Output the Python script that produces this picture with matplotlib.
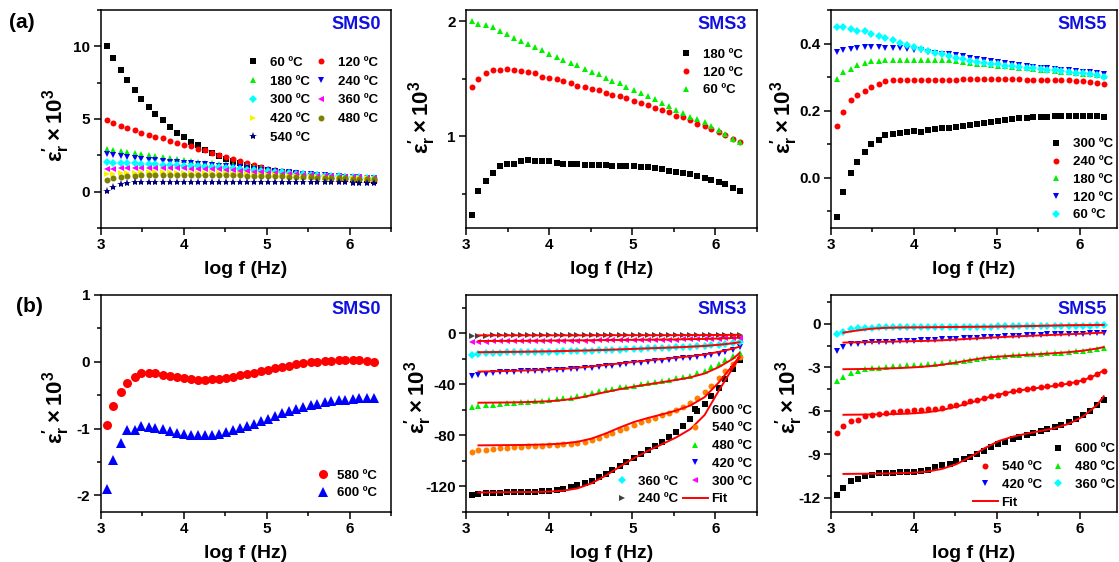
import matplotlib
matplotlib.use('Agg')
import matplotlib.pyplot as plt
from matplotlib.lines import Line2D
from matplotlib.ticker import MultipleLocator

plt.rcParams['font.family'] = ['Liberation Sans', 'DejaVu Sans']
plt.rcParams['font.weight'] = 'bold'
plt.rcParams['axes.unicode_minus'] = False
plt.rcParams['mathtext.fontset'] = 'custom'
plt.rcParams['mathtext.rm'] = 'Liberation Sans'
plt.rcParams['mathtext.bf'] = 'Liberation Sans:bold'
plt.rcParams['mathtext.it'] = 'Liberation Sans:italic'

# log of measuring frequency (Hz)
logf = [3.07, 3.15, 3.24, 3.32, 3.41, 3.49, 3.58, 3.66, 3.75, 3.83,
        3.92, 4.00, 4.09, 4.17, 4.26, 4.34, 4.43, 4.51, 4.60, 4.68,
        4.76, 4.85, 4.93, 5.02, 5.10, 5.19, 5.27, 5.36, 5.44, 5.53,
        5.61, 5.70, 5.78, 5.87, 5.95, 6.04, 6.12, 6.21, 6.29]
fit_logf = [3.15, 3.32, 3.49, 3.66, 3.83, 4.00, 4.17, 4.34, 4.51, 4.68,
            4.85, 5.02, 5.19, 5.36, 5.53, 5.70, 5.87, 6.04, 6.21, 6.29]

# (a) SMS0, positive permittivity
a0_60 = [10.0, 9.2, 8.4, 7.7, 7.0, 6.4, 5.85, 5.35, 4.9, 4.45, 4.07, 3.77, 3.43, 3.2, 2.9, 2.65, 2.45, 2.27, 2.1, 1.95,
         1.82, 1.7, 1.6, 1.5, 1.42, 1.34, 1.28, 1.22, 1.16, 1.1, 1.06, 1.02, 0.98, 0.94, 0.9, 0.86, 0.82, 0.78, 0.74]
a0_120 = [4.93, 4.7, 4.54, 4.35, 4.21, 4.05, 3.93, 3.77, 3.66, 3.52, 3.38, 3.24, 3.13, 2.96, 2.85, 2.69, 2.55, 2.38, 2.22, 2.08,
          1.94, 1.81, 1.69, 1.57, 1.46, 1.39, 1.3, 1.23, 1.16, 1.11, 1.06, 1.02, 0.97, 0.93, 0.9, 0.88, 0.86, 0.83, 0.81]
a0_180 = [2.96, 2.88, 2.8, 2.72, 2.64, 2.57, 2.5, 2.43, 2.36, 2.29, 2.22, 2.16, 2.1, 2.05, 2.0, 1.96, 1.92, 1.88, 1.84, 1.79,
          1.74, 1.68, 1.62, 1.56, 1.5, 1.44, 1.38, 1.33, 1.28, 1.23, 1.19, 1.15, 1.11, 1.08, 1.05, 1.02, 0.99, 0.96, 0.94]
a0_240 = [2.6, 2.52, 2.45, 2.38, 2.32, 2.26, 2.21, 2.16, 2.11, 2.07, 2.03, 1.99, 1.95, 1.91, 1.87, 1.83, 1.79, 1.75, 1.71, 1.67,
          1.62, 1.57, 1.52, 1.47, 1.42, 1.37, 1.32, 1.28, 1.24, 1.2, 1.16, 1.12, 1.09, 1.06, 1.03, 1.0, 0.98, 0.96, 0.94]
a0_300 = [2.02, 2.0, 1.98, 1.96, 1.94, 1.92, 1.9, 1.88, 1.86, 1.84, 1.82, 1.8, 1.78, 1.76, 1.73, 1.7, 1.67, 1.64, 1.6, 1.56,
          1.52, 1.48, 1.44, 1.4, 1.36, 1.32, 1.28, 1.24, 1.2, 1.17, 1.14, 1.11, 1.08, 1.05, 1.03, 1.01, 0.99, 0.97, 0.95]
a0_360 = [1.55, 1.58, 1.6, 1.62, 1.63, 1.63, 1.63, 1.63, 1.62, 1.62, 1.61, 1.6, 1.59, 1.58, 1.57, 1.55, 1.53, 1.5, 1.47, 1.44,
          1.41, 1.38, 1.35, 1.31, 1.28, 1.25, 1.22, 1.19, 1.16, 1.13, 1.1, 1.08, 1.06, 1.04, 1.02, 1.0, 0.98, 0.96, 0.94]
a0_420 = [1.2, 1.25, 1.28, 1.3, 1.31, 1.32, 1.32, 1.32, 1.32, 1.32, 1.31, 1.31, 1.3, 1.3, 1.29, 1.28, 1.27, 1.26, 1.24, 1.22,
          1.2, 1.18, 1.16, 1.14, 1.12, 1.1, 1.08, 1.06, 1.04, 1.02, 1.0, 0.99, 0.97, 0.96, 0.94, 0.93, 0.92, 0.91, 0.9]
a0_480 = [0.78, 0.93, 1.02, 1.08, 1.11, 1.13, 1.14, 1.15, 1.15, 1.15, 1.15, 1.15, 1.15, 1.14, 1.14, 1.14, 1.13, 1.13, 1.12, 1.12,
          1.11, 1.1, 1.09, 1.08, 1.07, 1.05, 1.04, 1.02, 1.0, 0.99, 0.97, 0.96, 0.94, 0.93, 0.92, 0.9, 0.89, 0.88, 0.87]
a0_540 = [0.07, 0.3, 0.5, 0.6, 0.65, 0.68, 0.69, 0.69, 0.68, 0.68, 0.67, 0.67, 0.66, 0.66, 0.66, 0.66, 0.66, 0.66, 0.66, 0.67,
          0.67, 0.67, 0.68, 0.68, 0.68, 0.68, 0.68, 0.68, 0.67, 0.67, 0.66, 0.66, 0.65, 0.65, 0.64, 0.63, 0.62, 0.61, 0.6]

# (a) SMS3
a3_180 = [0.31, 0.52, 0.61, 0.68, 0.74, 0.76, 0.76, 0.78, 0.79, 0.78, 0.78, 0.78, 0.77, 0.76, 0.76, 0.76, 0.75, 0.75, 0.75, 0.75,
          0.74, 0.74, 0.74, 0.74, 0.73, 0.73, 0.72, 0.71, 0.7, 0.69, 0.68, 0.67, 0.65, 0.64, 0.62, 0.6, 0.58, 0.55, 0.52]
a3_120 = [1.43, 1.5, 1.55, 1.58, 1.58, 1.59, 1.58, 1.57, 1.56, 1.55, 1.52, 1.51, 1.5, 1.48, 1.46, 1.44, 1.43, 1.41, 1.4, 1.38,
          1.36, 1.35, 1.33, 1.31, 1.29, 1.27, 1.25, 1.23, 1.21, 1.18, 1.17, 1.14, 1.11, 1.09, 1.06, 1.04, 1.01, 0.98, 0.95]
a3_60 = [2.0, 1.98, 1.965, 1.95, 1.92, 1.89, 1.86, 1.83, 1.8, 1.78, 1.75, 1.72, 1.69, 1.66, 1.64, 1.62, 1.59, 1.56, 1.54, 1.51,
         1.48, 1.46, 1.43, 1.4, 1.38, 1.35, 1.32, 1.29, 1.26, 1.23, 1.2, 1.17, 1.15, 1.12, 1.09, 1.05, 1.02, 0.98, 0.95]

# (a) SMS5
a5_300 = [-0.117, -0.042, 0.015, 0.048, 0.078, 0.101, 0.112, 0.126, 0.13, 0.133, 0.135, 0.138, 0.136, 0.141, 0.145, 0.147,
          0.149, 0.151, 0.154, 0.157, 0.159, 0.163, 0.166, 0.169, 0.172, 0.175, 0.177, 0.178, 0.18, 0.181, 0.182, 0.183,
          0.183, 0.183, 0.183, 0.183, 0.183, 0.183, 0.182]
a5_240 = [0.153, 0.195, 0.233, 0.248, 0.258, 0.271, 0.28, 0.287, 0.29, 0.291, 0.292, 0.292, 0.291, 0.292, 0.292, 0.292,
          0.292, 0.292, 0.293, 0.293, 0.293, 0.293, 0.293, 0.293, 0.293, 0.293, 0.293, 0.292, 0.292, 0.292, 0.292, 0.291,
          0.29, 0.29, 0.289, 0.288, 0.285, 0.282, 0.278]
a5_180 = [0.293, 0.315, 0.325, 0.336, 0.342, 0.347, 0.348, 0.35, 0.351, 0.351, 0.351, 0.351, 0.351, 0.351, 0.351, 0.351,
          0.35, 0.348, 0.346, 0.343, 0.34, 0.338, 0.336, 0.334, 0.332, 0.33, 0.328, 0.326, 0.324, 0.322, 0.32, 0.318,
          0.316, 0.314, 0.312, 0.31, 0.308, 0.306, 0.304]
a5_120 = [0.376, 0.38, 0.383, 0.386, 0.39, 0.39, 0.39, 0.388, 0.386, 0.386, 0.384, 0.382, 0.38, 0.376, 0.373, 0.37,
          0.368, 0.365, 0.362, 0.358, 0.354, 0.351, 0.348, 0.345, 0.342, 0.338, 0.336, 0.333, 0.331, 0.328, 0.326, 0.324,
          0.322, 0.32, 0.318, 0.316, 0.314, 0.312, 0.31]
a5_60 = [0.448, 0.448, 0.442, 0.438, 0.436, 0.428, 0.423, 0.418, 0.411, 0.403, 0.395, 0.39, 0.385, 0.378, 0.373, 0.368,
         0.362, 0.358, 0.353, 0.348, 0.345, 0.342, 0.34, 0.338, 0.334, 0.332, 0.33, 0.328, 0.326, 0.324, 0.322, 0.32,
         0.318, 0.316, 0.313, 0.311, 0.308, 0.305, 0.301]

# (b) SMS0, negative permittivity
b0_580 = [-0.94, -0.655, -0.455, -0.315, -0.235, -0.175, -0.175, -0.165, -0.205, -0.22, -0.23, -0.25, -0.265, -0.27,
          -0.275, -0.265, -0.255, -0.24, -0.23, -0.205, -0.185, -0.165, -0.14, -0.12, -0.095, -0.075, -0.06, -0.04,
          -0.025, -0.01, 0.0, 0.01, 0.015, 0.02, 0.025, 0.025, 0.02, 0.01, 0.0]
b0_600 = [-1.91, -1.475, -1.215, -1.025, -1.025, -0.965, -0.97, -0.99, -1.01, -1.04, -1.06, -1.075, -1.09, -1.09, -1.1,
          -1.09, -1.075, -1.05, -1.025, -0.99, -0.96, -0.925, -0.89, -0.85, -0.81, -0.77, -0.735, -0.705, -0.675, -0.65,
          -0.625, -0.61, -0.59, -0.58, -0.57, -0.56, -0.55, -0.545, -0.55]

# (b) SMS3 measured
b3_600 = [-127, -126, -125.5, -125.3, -125, -124.7, -124.5, -124.2, -124.2, -124, -123.7, -123.4, -122.9, -121.9, -120.6,
          -119, -117.4, -115.4, -112.8, -110.2, -107, -103.6, -100.5, -97.4, -94.5, -91.4, -88.3, -84.9, -81.3, -77.1,
          -72.7, -67.4, -60.9, -55.2, -49.2, -42.7, -35.9, -27.6, -20.6]
b3_540 = [-92.7, -91.7, -91.1, -90.6, -90.1, -89.6, -89.1, -88.8, -88.5, -88.3, -88, -87.8, -87.5, -87, -86.5, -85.9,
          -84.9, -83.3, -81.8, -79.7, -77.9, -76, -74, -71.9, -69.8, -68, -66.1, -64.1, -62.2, -60.2, -57.6, -54.4, -50.5,
          -46.1, -40.9, -35.4, -29.7, -24, -18.2]
b3_480 = [-57.8, -57, -56.5, -56, -55.5, -54.9, -54.4, -54.2, -53.9, -53.4, -52.9, -52.3, -51.8, -51, -50.3, -49.5,
          -48.2, -46.6, -45.3, -44.5, -43.5, -42.4, -41.7, -40.9, -39.8, -39.1, -38, -37.2, -36.5, -35.4, -34.4, -33.1,
          -31.3, -29.2, -26.6, -24, -20.8, -17.7, -15.1]
b3_420 = [-33.1, -32.3, -31.8, -31, -30.5, -30.2, -30, -29.7, -29.7, -29.4, -29.2, -28.9, -28.6, -28.4, -28.1, -27.9,
          -27.3, -26.8, -26.3, -25.8, -25.3, -24.7, -24.2, -23.4, -22.9, -22.4, -21.9, -21.4, -20.6, -20.1, -19.5, -19,
          -18.5, -17.7, -16.9, -15.9, -14.6, -13, -10.9]
b3_360 = [-16.7, -16.1, -15.6, -15.3, -15.1, -15.0, -14.9, -14.8, -14.7, -14.6, -14.5, -14.4, -14.3, -14.2, -14.1, -13.9,
          -13.7, -13.5, -13.3, -13.1, -12.9, -12.7, -12.5, -12.3, -12.1, -11.9, -11.7, -11.5, -11.3, -11.0, -10.7, -10.4,
          -10.1, -9.8, -9.4, -9.0, -8.4, -7.6, -6.7]
b3_300 = [-7.0, -6.7, -6.5, -6.4, -6.3, -6.3, -6.2, -6.2, -6.1, -6.1, -6.0, -6.0, -5.9, -5.9, -5.8, -5.8, -5.7, -5.7,
          -5.6, -5.6, -5.5, -5.5, -5.4, -5.4, -5.3, -5.3, -5.2, -5.1, -5.0, -4.9, -4.8, -4.7, -4.6, -4.5, -4.4, -4.2, -4.0,
          -3.7, -3.4]
b3_240 = [-1.9, -1.8, -1.8, -1.7, -1.7, -1.7, -1.7, -1.7, -1.6, -1.6, -1.6, -1.6, -1.6, -1.6, -1.6, -1.6, -1.6, -1.6,
          -1.6, -1.6, -1.6, -1.6, -1.5, -1.5, -1.5, -1.5, -1.5, -1.5, -1.5, -1.5, -1.5, -1.4, -1.4, -1.4, -1.4, -1.3, -1.3,
          -1.2, -1.2]
# (b) SMS3 fitted curves
b3_fit_600 = [-124.7, -124.6, -124.5, -124.4, -124.3, -124.0, -123.3, -121.5, -117.5, -111.5, -104.5, -97.8, -92.0,
              -86.8, -81.5, -75.0, -64.0, -45.0, -27.0, -19.0]
b3_fit_540 = [-87.8, -87.7, -87.6, -87.5, -87.3, -87.0, -86.3, -85.0, -82.5, -78.5, -73.8, -69.5, -66.3, -63.5, -60.5,
              -56.5, -50.0, -38.5, -25.0, -18.0]
b3_fit_480 = [-54.4, -54.3, -54.2, -54.0, -53.7, -53.2, -52.3, -50.8, -48.5, -46.0, -43.8, -41.8, -40.0, -38.3, -36.5,
              -34.5, -31.5, -26.5, -20.0, -15.5]
b3_fit_420 = [-30.0, -29.8, -29.5, -29.2, -28.8, -28.4, -27.8, -27.0, -26.0, -24.8, -23.6, -22.4, -21.3, -20.2, -19.1,
              -18.0, -16.6, -14.6, -12.0, -10.5]
b3_fit_360 = [-14.8, -14.7, -14.6, -14.5, -14.3, -14.1, -13.9, -13.6, -13.3, -13.0, -12.6, -12.2, -11.8, -11.4, -11.0,
              -10.5, -9.9, -9.0, -7.8, -7.0]
b3_fit_300 = [-6.0, -6.0, -5.9, -5.9, -5.8, -5.7, -5.6, -5.5, -5.4, -5.3, -5.2, -5.1, -5.0, -4.9, -4.8, -4.6, -4.4,
              -4.1, -3.7, -3.4]
b3_fit_240 = [-1.6, -1.6, -1.6, -1.6, -1.6, -1.6, -1.6, -1.6, -1.6, -1.5, -1.5, -1.5, -1.5, -1.5, -1.5, -1.4, -1.4,
              -1.3, -1.2, -1.2]

# (b) SMS5 measured
b5_600 = [-11.84, -11.33, -10.83, -10.71, -10.53, -10.41, -10.3, -10.3, -10.3, -10.25, -10.25, -10.21, -10.18, -10.07,
          -9.91, -9.77, -9.66, -9.49, -9.33, -9.2, -8.99, -8.76, -8.51, -8.3, -8.16, -7.95, -7.79, -7.66, -7.54, -7.43,
          -7.29, -7.15, -6.97, -6.8, -6.57, -6.32, -6.0, -5.59, -5.24]
b5_540 = [-7.54, -7.08, -6.74, -6.67, -6.39, -6.28, -6.21, -6.14, -6.09, -6.05, -6.0, -5.98, -5.95, -5.91, -5.86, -5.79,
          -5.7, -5.59, -5.47, -5.36, -5.24, -5.13, -5.01, -4.9, -4.78, -4.67, -4.6, -4.51, -4.41, -4.34, -4.28, -4.21,
          -4.14, -4.07, -3.98, -3.86, -3.7, -3.47, -3.24]
b5_480 = [-3.93, -3.66, -3.4, -3.22, -3.1, -3.06, -3.03, -2.97, -2.92, -2.9, -2.87, -2.85, -2.83, -2.78, -2.74, -2.69,
          -2.64, -2.6, -2.53, -2.48, -2.44, -2.37, -2.32, -2.28, -2.23, -2.18, -2.14, -2.11, -2.09, -2.07, -2.02, -2.0,
          -1.98, -1.93, -1.89, -1.84, -1.79, -1.72, -1.68]
b5_420 = [-1.84, -1.56, -1.4, -1.36, -1.29, -1.26, -1.24, -1.22, -1.22, -1.2, -1.17, -1.15, -1.13, -1.1, -1.08, -1.06,
          -1.03, -1.01, -0.99, -0.97, -0.94, -0.92, -0.9, -0.87, -0.85, -0.83, -0.8, -0.78, -0.76, -0.74, -0.71, -0.71,
          -0.69, -0.69, -0.67, -0.67, -0.64, -0.62, -0.62]
b5_360 = [-0.71, -0.53, -0.38, -0.31, -0.27, -0.25, -0.24, -0.23, -0.23, -0.22, -0.22, -0.22, -0.21, -0.21, -0.21, -0.21,
          -0.2, -0.2, -0.2, -0.19, -0.19, -0.18, -0.18, -0.17, -0.17, -0.16, -0.16, -0.15, -0.15, -0.14, -0.14, -0.13,
          -0.13, -0.12, -0.12, -0.11, -0.11, -0.1, -0.1]
# (b) SMS5 fitted curves
b5_fit_600 = [-10.37, -10.36, -10.35, -10.34, -10.32, -10.28, -10.2, -10.02, -9.7, -9.2, -8.6, -8.1, -7.8, -7.58, -7.4,
              -7.2, -6.9, -6.4, -5.6, -5.0]
b5_fit_540 = [-6.28, -6.27, -6.26, -6.24, -6.22, -6.18, -6.1, -5.95, -5.72, -5.45, -5.15, -4.88, -4.68, -4.52, -4.4,
              -4.28, -4.12, -3.9, -3.5, -3.2]
b5_fit_480 = [-3.13, -3.12, -3.1, -3.08, -3.05, -3.0, -2.93, -2.82, -2.67, -2.5, -2.35, -2.26, -2.2, -2.14, -2.08,
              -2.02, -1.95, -1.85, -1.7, -1.6]
b5_fit_420 = [-1.29, -1.27, -1.25, -1.23, -1.21, -1.19, -1.17, -1.13, -1.08, -1.02, -0.97, -0.92, -0.87, -0.83, -0.79,
              -0.75, -0.71, -0.67, -0.62, -0.6]
b5_fit_360 = [-0.6, -0.45, -0.33, -0.27, -0.25, -0.24, -0.23, -0.22, -0.21, -0.2, -0.19, -0.18, -0.17, -0.15, -0.13,
              -0.11, -0.09, -0.08, -0.07, -0.07]

BLACK, RED, GREEN, BLUE = '#000000', '#ff0000', '#00f000', '#0000ff'
CYAN, MAGENTA, YELLOW, OLIVE = '#00ffff', '#ff00ff', '#f5f500', '#808000'
NAVY, ORANGE, GRAY = '#000080', '#ff8000', '#404040'
TITLE_BLUE = '#1010e0'
YLABEL = r'$\mathrm{\varepsilon}_{\mathrm{r}}^{\prime}\times\mathbf{10^3}$'


def pts(ax, y, marker, color, label, ms=4.3):
    h, = ax.plot(logf, y, linestyle='none', marker=marker, ms=ms, color=color,
                 markeredgewidth=0, label=label)
    return h


def fit(ax, y):
    h, = ax.plot(fit_logf, y, color=RED, lw=1.4, zorder=3)
    return h


def style(ax, name, ylim, major, minor, ylab_xy, xmax=6.5):
    ax.set_xlim(3, xmax)
    ax.set_ylim(*ylim)
    ax.xaxis.set_major_locator(MultipleLocator(1))
    ax.xaxis.set_minor_locator(MultipleLocator(0.5))
    ax.yaxis.set_major_locator(MultipleLocator(major))
    ax.yaxis.set_minor_locator(MultipleLocator(minor))
    ax.tick_params(which='both', direction='out', width=1.1, labelsize=11, pad=2.5)
    ax.tick_params(which='major', length=5)
    ax.tick_params(which='minor', length=3)
    for s in ax.spines.values():
        s.set_linewidth(1.1)
    ax.set_xlabel('log f (Hz)', fontsize=14, fontweight='bold', labelpad=6)
    ax.set_ylabel(YLABEL, fontsize=16, va='center')
    ax.yaxis.set_label_coords(*ylab_xy)
    ax.text(0.965, 0.935, name, transform=ax.transAxes, ha='right', va='center',
            color=TITLE_BLUE, fontsize=13, fontweight='bold')


def legend(ax, handles, labels, anchor, loc='upper left', ncol=1, hl=1.0, pad=0.8,
           spacing=0.42, colsp=0.3):
    ax.legend(handles, labels, loc=loc, bbox_to_anchor=anchor, ncol=ncol, frameon=False,
              prop={'size': 9.5, 'weight': 'bold'}, handlelength=hl, handletextpad=pad,
              labelspacing=spacing, columnspacing=colsp, borderpad=0, borderaxespad=0)


W, H = 1119, 562
fig = plt.figure(figsize=(W / 100, H / 100), dpi=100)
fig.patch.set_facecolor('white')


def box(left, top, right, bottom):
    return fig.add_axes([left / W, 1 - bottom / H, (right - left) / W, (bottom - top) / H])


ax1 = box(100.7, 10, 391, 228)
ax2 = box(466, 10, 757, 228)
ax3 = box(830.7, 10, 1117, 228)
ax4 = box(100.7, 295, 391, 512)
ax5 = box(466, 295, 757, 512)
ax6 = box(831, 295, 1117, 512)

# (a) SMS0
h60 = pts(ax1, a0_60, 's', BLACK, '60 \u00baC')
h120 = pts(ax1, a0_120, 'o', RED, '120 \u00baC')
h180 = pts(ax1, a0_180, '^', GREEN, '180 \u00baC')
h240 = pts(ax1, a0_240, 'v', BLUE, '240 \u00baC')
h300 = pts(ax1, a0_300, 'D', CYAN, '300 \u00baC', ms=3.6)
h360 = pts(ax1, a0_360, '<', MAGENTA, '360 \u00baC')
h420 = pts(ax1, a0_420, '>', YELLOW, '420 \u00baC')
h480 = pts(ax1, a0_480, 'o', OLIVE, '480 \u00baC')
h540 = pts(ax1, a0_540, '*', NAVY, '540 \u00baC', ms=6)
style(ax1, 'SMS0', (-2.5, 12.5), 5, 2.5, (-0.153, 0.47))
hs = [h60, h180, h300, h420, h540, h120, h240, h360, h480]
legend(ax1, hs, [h.get_label() for h in hs], (0.501, 0.787), ncol=2, spacing=0.5)

# (a) SMS3
hs = [pts(ax2, a3_180, 's', BLACK, '180 \u00baC'),
      pts(ax2, a3_120, 'o', RED, '120 \u00baC'),
      pts(ax2, a3_60, '^', GREEN, '60 \u00baC')]
style(ax2, 'SMS3', (0.2, 2.1), 1, 0.5, (-0.15, 0.51))
legend(ax2, hs, [h.get_label() for h in hs], (0.734, 0.823))

# (a) SMS5
hs = [pts(ax3, a5_300, 's', BLACK, '300 \u00baC'),
      pts(ax3, a5_240, 'o', RED, '240 \u00baC'),
      pts(ax3, a5_180, '^', GREEN, '180 \u00baC'),
      pts(ax3, a5_120, 'v', BLUE, '120 \u00baC'),
      pts(ax3, a5_60, 'D', CYAN, '60 \u00baC', ms=3.6)]
style(ax3, 'SMS5', (-0.15, 0.5), 0.2, 0.1, (-0.163, 0.51), xmax=6.45)
legend(ax3, hs, [h.get_label() for h in hs], (0.765, 0.03), loc='lower left')

# (b) SMS0
hs = [pts(ax4, b0_580, 'o', RED, '580 \u00baC', ms=6.5),
      pts(ax4, b0_600, '^', BLUE, '600 \u00baC', ms=7)]
style(ax4, 'SMS0', (-2.25, 1.0), 1, 0.5, (-0.153, 0.484))
legend(ax4, hs, [h.get_label() for h in hs], (0.742, 0.058), loc='lower left', pad=0.6)

# (b) SMS3
p600 = pts(ax5, b3_600, 's', BLACK, '600 \u00baC')
p540 = pts(ax5, b3_540, 'o', ORANGE, '540 \u00baC')
p480 = pts(ax5, b3_480, '^', GREEN, '480 \u00baC')
p420 = pts(ax5, b3_420, 'v', BLUE, '420 \u00baC')
p360 = pts(ax5, b3_360, 'D', CYAN, '360 \u00baC', ms=3.6)
p300 = pts(ax5, b3_300, '<', MAGENTA, '300 \u00baC')
p240 = pts(ax5, b3_240, '>', GRAY, '240 \u00baC')
for y in [b3_fit_600, b3_fit_540, b3_fit_480, b3_fit_420, b3_fit_360, b3_fit_300]:
    fit(ax5, y)
f3 = fit(ax5, b3_fit_240)
style(ax5, 'SMS3', (-140, 30), 40, 20, (-0.165, 0.53))
blank = Line2D([], [], linestyle='none')
hs = [blank, blank, blank, blank, p360, p240, p600, p540, p480, p420, p300, f3]
labels = ['', '', '', '', p360.get_label(), p240.get_label(), p600.get_label(),
          p540.get_label(), p480.get_label(), p420.get_label(), p300.get_label(), 'Fit']
legend(ax5, hs, labels, (0.493, 0.03), loc='lower left', ncol=2, hl=1.9, pad=0.3)

# (b) SMS5
q600 = pts(ax6, b5_600, 's', BLACK, '600 \u00baC')
q540 = pts(ax6, b5_540, 'o', RED, '540 \u00baC')
q480 = pts(ax6, b5_480, '^', GREEN, '480 \u00baC')
q420 = pts(ax6, b5_420, 'v', BLUE, '420 \u00baC')
q360 = pts(ax6, b5_360, 'D', CYAN, '360 \u00baC', ms=3.6)
for y in [b5_fit_600, b5_fit_540, b5_fit_480, b5_fit_420]:
    fit(ax6, y)
f5 = fit(ax6, b5_fit_360)
style(ax6, 'SMS5', (-13, 2), 3, 1.5, (-0.145, 0.53), xmax=6.45)
hs = [blank, q540, q420, f5, q600, q480, q360, blank]
labels = ['', q540.get_label(), q420.get_label(), 'Fit', q600.get_label(),
          q480.get_label(), q360.get_label(), '']
legend(ax6, hs, labels, (0.495, 0.015), loc='lower left', ncol=2, hl=1.9, pad=0.3)

fig.text(9 / W, 1 - 23 / H, '(a)', fontsize=15, fontweight='bold', va='center')
fig.text(16 / W, 1 - 306 / H, '(b)', fontsize=15, fontweight='bold', va='center')

fig.savefig('out.png', dpi=100, facecolor='white')
